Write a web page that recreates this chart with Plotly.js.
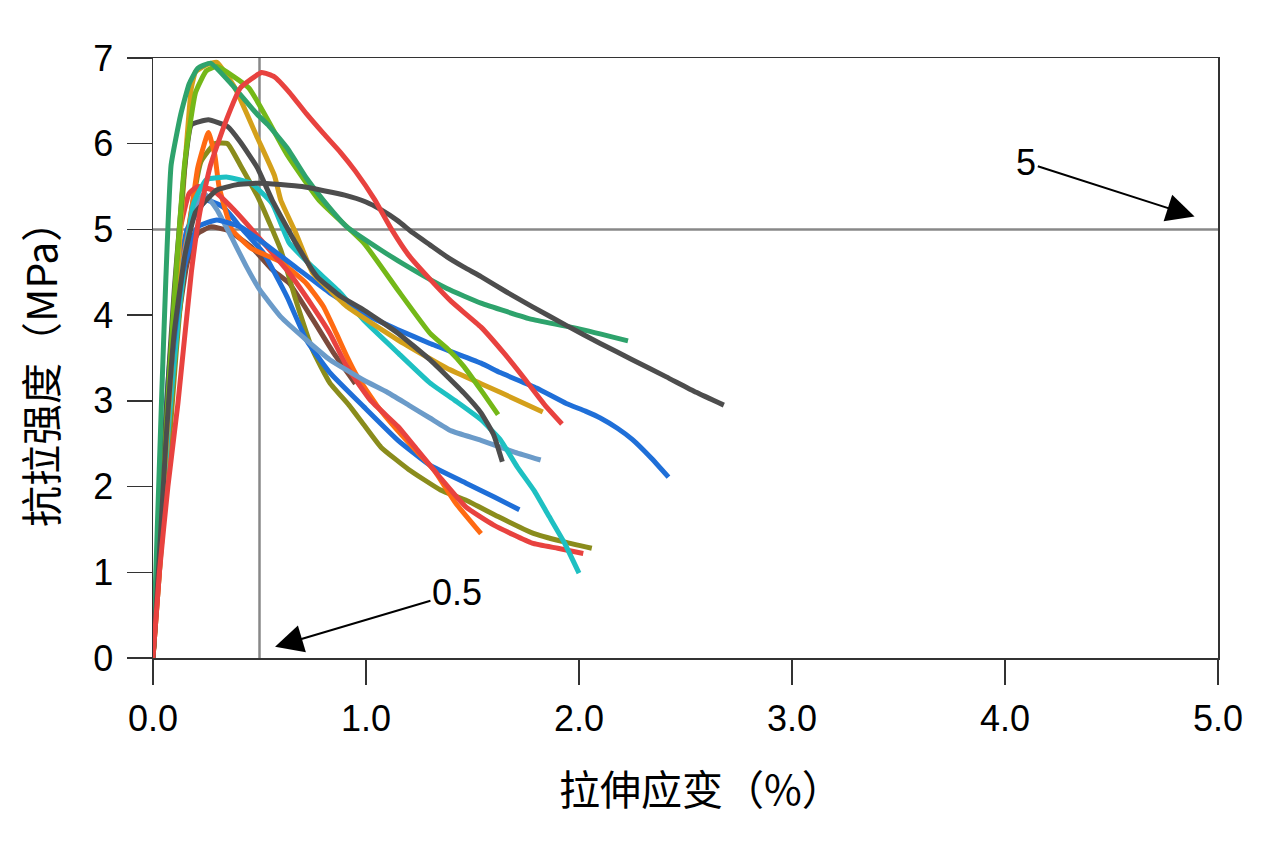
<!DOCTYPE html>
<html>
<head>
<meta charset="utf-8">
<script src="https://cdn.plot.ly/plotly-3.0.1.min.js"></script>
<style>
  html, body { margin: 0; padding: 0; background: #fff; }
  #chart { width: 1264px; height: 841px; }
</style>
</head>
<body>
<div id="chart"></div>
<script>
'use strict';
/* Tensile strain (%) and tensile strength (MPa), one pair per specimen */
var brown_x = [0, 0.02, 0.05, 0.1, 0.16, 0.21, 0.27, 0.35, 0.46, 0.56, 0.64, 0.75, 0.85, 0.95];
var brown_y = [0, 1.0, 2.2, 3.6, 4.6, 4.95, 5.03, 4.99, 4.80, 4.53, 4.37, 3.95, 3.55, 3.2];

var olive_x = [0, 0.03, 0.07, 0.11, 0.16, 0.225, 0.29, 0.35, 0.41, 0.50, 0.60, 0.67, 0.75, 0.83, 0.92, 0.99, 1.07, 1.2, 1.35, 1.47, 1.62, 1.78, 1.92, 2.06];
var olive_y = [0, 1.0, 2.3, 3.6, 4.9, 5.79, 6.0, 6.0, 5.75, 5.34, 4.76, 4.18, 3.59, 3.21, 2.95, 2.72, 2.46, 2.2, 1.96, 1.84, 1.65, 1.46, 1.36, 1.28];

var blue1_x = [0, 0.02, 0.04, 0.07, 0.11, 0.16, 0.25, 0.33, 0.41, 0.52, 0.63, 0.72, 0.83, 0.99, 1.15, 1.3, 1.47, 1.6, 1.72];
var blue1_y = [0, 1.0, 2.0, 3.2, 4.3, 5.0, 5.34, 5.26, 5.03, 4.72, 4.21, 3.71, 3.33, 2.93, 2.54, 2.25, 2.04, 1.88, 1.73];

var orange_x = [0, 0.03, 0.06, 0.1, 0.14, 0.17, 0.21, 0.26, 0.29, 0.31, 0.37, 0.46, 0.60, 0.72, 0.80, 0.86, 0.91, 0.96, 1.05, 1.15, 1.25, 1.32, 1.42, 1.54];
var orange_y = [0, 1.0, 2.2, 3.6, 4.64, 5.03, 5.72, 6.13, 5.87, 5.5, 5.0, 4.78, 4.62, 4.37, 4.10, 3.79, 3.52, 3.28, 2.95, 2.65, 2.38, 2.19, 1.81, 1.45];

var red1_x = [0, 0.03, 0.06, 0.1, 0.13, 0.17, 0.21, 0.28, 0.38, 0.52, 0.64, 0.75, 0.83, 0.91, 1.02, 1.15, 1.24, 1.35, 1.47, 1.6, 1.78, 1.9, 2.02];
var red1_y = [0, 1.1, 2.4, 4.0, 5.03, 5.42, 5.5, 5.46, 5.23, 4.84, 4.49, 4.10, 3.79, 3.40, 3.01, 2.70, 2.43, 2.1, 1.76, 1.55, 1.34, 1.28, 1.22];

var steel_x = [0, 0.02, 0.05, 0.09, 0.14, 0.19, 0.24, 0.30, 0.36, 0.44, 0.50, 0.60, 0.72, 0.83, 0.99, 1.1, 1.2, 1.3, 1.4, 1.54, 1.7, 1.82];
var steel_y = [0, 1.0, 2.2, 3.5, 4.6, 5.2, 5.42, 5.23, 4.95, 4.56, 4.3, 3.98, 3.71, 3.48, 3.24, 3.1, 2.95, 2.8, 2.65, 2.54, 2.4, 2.31];

var cyan_x = [0, 0.03, 0.07, 0.12, 0.19, 0.25, 0.35, 0.46, 0.56, 0.64, 0.75, 0.88, 0.99, 1.15, 1.30, 1.42, 1.54, 1.63, 1.71, 1.79, 1.86, 1.93, 2.0];
var cyan_y = [0, 1.2, 2.6, 4.0, 5.3, 5.58, 5.61, 5.54, 5.3, 4.84, 4.56, 4.26, 3.94, 3.56, 3.21, 3.0, 2.78, 2.55, 2.23, 1.95, 1.65, 1.35, 0.99];

var blue2_x = [0, 0.02, 0.05, 0.09, 0.14, 0.21, 0.30, 0.41, 0.52, 0.67, 0.83, 0.99, 1.15, 1.30, 1.54, 1.63, 1.80, 1.94, 2.03, 2.1, 2.18, 2.25, 2.34, 2.42];
var blue2_y = [0, 1.0, 2.2, 3.5, 4.5, 5.03, 5.11, 5.03, 4.84, 4.56, 4.26, 4.02, 3.83, 3.67, 3.44, 3.33, 3.15, 2.97, 2.88, 2.8, 2.68, 2.55, 2.33, 2.11];

var gold_x = [0, 0.03, 0.07, 0.11, 0.15, 0.18, 0.20, 0.25, 0.30, 0.385, 0.49, 0.57, 0.60, 0.67, 0.75, 0.83, 0.91, 1.15, 1.38, 1.54, 1.63, 1.83];
var gold_y = [0, 1.2, 2.8, 4.3, 5.75, 6.65, 6.84, 6.92, 6.95, 6.65, 6.07, 5.63, 5.34, 4.96, 4.49, 4.29, 4.10, 3.71, 3.38, 3.2, 3.1, 2.87];

var gray1_x = [0, 0.03, 0.06, 0.1, 0.15, 0.18, 0.26, 0.35, 0.41, 0.49, 0.56, 0.67, 0.77, 0.88, 0.99, 1.15, 1.30, 1.46, 1.54, 1.60, 1.64];
var gray1_y = [0, 1.3, 2.8, 4.3, 5.75, 6.22, 6.28, 6.2, 6.02, 5.72, 5.34, 4.84, 4.45, 4.22, 4.06, 3.79, 3.48, 3.09, 2.86, 2.6, 2.29];

var lime_x = [0, 0.03, 0.06, 0.1, 0.15, 0.2, 0.25, 0.30, 0.45, 0.63, 0.78, 0.99, 1.15, 1.30, 1.39, 1.46, 1.55, 1.62];
var lime_y = [0, 1.2, 2.6, 4.2, 5.8, 6.6, 6.85, 6.9, 6.65, 5.87, 5.34, 4.84, 4.29, 3.79, 3.59, 3.40, 3.09, 2.84];

var green_x = [0, 0.02, 0.04, 0.06, 0.085, 0.13, 0.17, 0.21, 0.27, 0.37, 0.49, 0.54, 0.63, 0.72, 0.80, 0.91, 1.07, 1.22, 1.38, 1.54, 1.78, 2.0, 2.23];
var green_y = [0, 1.5, 3.0, 4.4, 5.75, 6.34, 6.7, 6.88, 6.94, 6.69, 6.34, 6.22, 5.95, 5.6, 5.34, 5.03, 4.76, 4.53, 4.31, 4.14, 3.95, 3.84, 3.70];

var gray2_x = [0, 0.03, 0.06, 0.1, 0.15, 0.2, 0.3, 0.39, 0.5, 0.7, 0.9, 1.0, 1.07, 1.15, 1.22, 1.3, 1.38, 1.46, 1.54, 1.66, 1.78, 1.94, 2.10, 2.25, 2.41, 2.55, 2.68];
var gray2_y = [0, 1.2, 2.5, 3.8, 4.7, 5.2, 5.46, 5.52, 5.54, 5.5, 5.4, 5.32, 5.23, 5.1, 4.96, 4.82, 4.68, 4.56, 4.45, 4.27, 4.10, 3.88, 3.67, 3.48, 3.28, 3.1, 2.95];

var red2_x = [0, 0.03, 0.07, 0.117, 0.18, 0.22, 0.27, 0.34, 0.41, 0.51, 0.57, 0.64, 0.72, 0.80, 0.88, 0.95, 1.04, 1.12, 1.2, 1.3, 1.4, 1.54, 1.65, 1.75, 1.84, 1.92];
var red2_y = [0, 1.0, 2.0, 2.97, 4.5, 5.2, 5.75, 6.25, 6.65, 6.83, 6.78, 6.6, 6.35, 6.12, 5.9, 5.68, 5.35, 5.0, 4.7, 4.42, 4.16, 3.86, 3.55, 3.24, 2.95, 2.73];

var series = [
  [brown_x, brown_y, '#7b4a3c'],
  [olive_x, olive_y, '#8a8c1c'],
  [blue1_x, blue1_y, '#1f6fd8'],
  [orange_x, orange_y, '#ff6a12'],
  [red1_x, red1_y, '#e8423f'],
  [steel_x, steel_y, '#6b9bc9'],
  [cyan_x, cyan_y, '#1ec0c2'],
  [blue2_x, blue2_y, '#1f6fd8'],
  [gold_x, gold_y, '#d4a01a'],
  [gray1_x, gray1_y, '#4d4d4d'],
  [lime_x, lime_y, '#74b818'],
  [green_x, green_y, '#2ea36c'],
  [gray2_x, gray2_y, '#4d4d4d'],
  [red2_x, red2_y, '#e8423f']
];

var data = series.map(function (s) {
  return {
    x: s[0],
    y: s[1],
    type: 'scatter',
    mode: 'lines',
    line: {color: s[2], width: 5, shape: 'spline', smoothing: 0.4},
    hoverinfo: 'x+y'
  };
});

var tickFont = {family: 'Liberation Sans, Arial, sans-serif', size: 36, color: '#000'};
var titleFont = {family: 'Noto Sans CJK SC, sans-serif', size: 41, color: '#000'};

var layout = {
  width: 1264,
  height: 841,
  margin: {l: 153, r: 46, t: 58, b: 183},
  paper_bgcolor: '#fff',
  plot_bgcolor: '#fff',
  showlegend: false,
  xaxis: {
    range: [0, 5],
    tickvals: [0, 1, 2, 3, 4, 5],
    ticktext: ['0.0', '1.0', '2.0', '3.0', '4.0', '5.0'],
    ticks: 'outside', ticklen: 25, tickwidth: 1.5, tickcolor: '#333',
    ticklabelstandoff: 3,
    showgrid: false, zeroline: false,
    showline: true, linecolor: '#333', linewidth: 1.5, mirror: true,
    tickfont: tickFont
  },
  yaxis: {
    range: [0, 7],
    tickvals: [0, 1, 2, 3, 4, 5, 6, 7],
    ticks: 'outside', ticklen: 25, tickwidth: 1.5, tickcolor: '#333',
    ticklabelstandoff: 6,
    showgrid: false, zeroline: false,
    showline: true, linecolor: '#333', linewidth: 1.5, mirror: true,
    tickfont: tickFont
  },
  shapes: [
    {type: 'line', xref: 'x', yref: 'y', x0: 0.5, x1: 0.5, y0: 0, y1: 7, line: {color: '#888', width: 2.5}, layer: 'below'},
    {type: 'line', xref: 'x', yref: 'y', x0: 0, x1: 5, y0: 5, y1: 5, line: {color: '#888', width: 2.5}, layer: 'below'}
  ],
  annotations: [
    // axis titles
    {xref: 'paper', yref: 'paper', x: 0.515, y: -0.215, xanchor: 'center', yanchor: 'middle',
     text: '拉伸应变（%）', showarrow: false, font: titleFont},
    {xref: 'paper', yref: 'paper', x: -0.107, y: 0.49, xanchor: 'center', yanchor: 'middle',
     text: '抗拉强度（MPa）', textangle: -90, showarrow: false, font: titleFont},
    // markers for the 5 MPa and 0.5 % levels
    {x: 4.89, y: 5.15, ax: 4.1, ay: 5.78, axref: 'x', ayref: 'y', text: '5',
     showarrow: true, arrowhead: 2, arrowsize: 2.8, arrowwidth: 2, arrowcolor: '#000',
     font: {family: 'Liberation Sans, Arial, sans-serif', size: 36, color: '#000'}},
    {x: 0.573, y: 0.13, ax: 1.427, ay: 0.76, axref: 'x', ayref: 'y', text: '0.5',
     showarrow: true, arrowhead: 2, arrowsize: 2.8, arrowwidth: 2, arrowcolor: '#000',
     font: {family: 'Liberation Sans, Arial, sans-serif', size: 36, color: '#000'}}
  ]
};

Plotly.newPlot('chart', data, layout, {displayModeBar: false, staticPlot: true});
</script>
</body>
</html>
